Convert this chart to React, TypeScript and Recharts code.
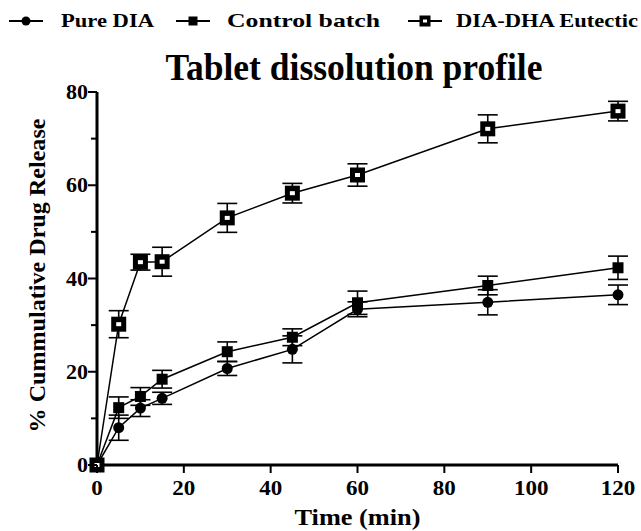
import React from "react";
import { LineChart, Line, XAxis, YAxis, ErrorBar } from "recharts";

const times = [0, 5, 10, 15, 30, 45, 60, 90, 120];
const pureDIA = [0, 8.0, 12.2, 14.3, 20.7, 24.8, 33.4, 34.9, 36.5];
const pureDIAErr = [0, 2.7, 1.8, 1.3, 1.5, 2.9, 1.6, 2.7, 2.1];
const controlBatch = [0, 12.3, 14.7, 18.4, 24.3, 27.4, 34.8, 38.5, 42.3];
const controlBatchErr = [0, 2.3, 1.9, 1.9, 2.1, 1.8, 2.5, 2.0, 2.5];
const eutectic = [0, 30.2, 43.5, 43.6, 53.0, 58.3, 62.2, 72.1, 75.9];
const eutecticErr = [0, 2.9, 1.7, 3.1, 3.1, 2.1, 2.4, 3.0, 2.1];

const xTicks = [0, 20, 40, 60, 80, 100, 120];
const yTicks = [0, 10, 20, 30, 40, 50, 60, 70, 80];

const seriesNames = ["Pure DIA", "Control batch", "DIA-DHA Eutectic"];
const title = "Tablet dissolution profile";
const xTitle = "Time (min)";
const yTitle = "% Cummulative Drug Release";

const data = times.map((t, i) => ({
  time: t,
  pure: pureDIA[i],
  pureErr: pureDIAErr[i],
  control: controlBatch[i],
  controlErr: controlBatchErr[i],
  eut: eutectic[i],
  eutErr: eutecticErr[i],
}));

const FONT = "Liberation Serif, Times New Roman, serif";

const CircleDot = (p: any) => {
  const { cx, cy, index } = p;
  if (cx == null || cy == null) return <g key={`c-${index}`} />;
  return <circle key={`c-${index}`} cx={cx} cy={cy} r={5.5} fill="#000" />;
};
const SquareDot = (p: any) => {
  const { cx, cy, index } = p;
  if (cx == null || cy == null) return <g key={`s-${index}`} />;
  return <rect key={`s-${index}`} x={cx - 5.5} y={cy - 5.5} width={11} height={11} fill="#000" />;
};
const OpenSquareDot = (p: any) => {
  const { cx, cy, index } = p;
  if (cx == null || cy == null) return <g key={`o-${index}`} />;
  return (
    <g key={`o-${index}`}>
      <rect x={cx - 7.5} y={cy - 7.5} width={15} height={15} fill="#000" />
      <rect x={cx - 2.5} y={cy - 2} width={5} height={4} fill="#fff" />
    </g>
  );
};

const YTick = (props: any) => {
  const { x, y, payload } = props;
  const major = payload.value % 20 === 0;
  const s = String(payload.value);
  return (
    <g>
      <line x1={x} x2={x - (major ? 9 : 6)} y1={y} y2={y} stroke="#000" strokeWidth={2} />
      {major && (
        <text
          x={x - 9}
          y={y}
          dy="0.36em"
          textAnchor="end"
          fontFamily={FONT}
          fontWeight="bold"
          fontSize={20}
          fill="#000"
          textLength={s.length * 11}
          lengthAdjust="spacingAndGlyphs"
        >
          {s}
        </text>
      )}
    </g>
  );
};

const XTick = (props: any) => {
  const { x, y, payload } = props;
  const s = String(payload.value);
  return (
    <g>
      <line x1={x} x2={x} y1={y} y2={y + 8} stroke="#000" strokeWidth={2} />
      <text
        x={x}
        y={y + 30}
        textAnchor="middle"
        fontFamily={FONT}
        fontWeight="bold"
        fontSize={20}
        fill="#000"
        textLength={s.length * 11.5}
        lengthAdjust="spacingAndGlyphs"
      >
        {s}
      </text>
    </g>
  );
};

const legendIconX = [9, 176, 408];
const legendTextX = [61, 227, 456];
const legendTextW = [93, 153, 182];
const LegendIcon = ({ i, x0, cy }: { i: number; x0: number; cy: number }) => {
  const cx = x0 + 17;
  return (
    <g>
      <line x1={x0} x2={x0 + 34} y1={cy} y2={cy} stroke="#000" strokeWidth={2} />
      {i === 0 && <circle cx={cx} cy={cy} r={4.5} fill="#000" />}
      {i === 1 && <rect x={cx - 4.5} y={cy - 4.5} width={9} height={9} fill="#000" />}
      {i === 2 && (
        <g>
          <rect x={cx - 5.5} y={cy - 5.5} width={11} height={11} fill="#000" />
          <rect x={cx - 2} y={cy - 1.5} width={4} height={3} fill="#fff" />
        </g>
      )}
    </g>
  );
};

export default function App() {
  return (
    <div style={{ position: "absolute", left: 0, top: 0, width: 641, height: 531, background: "#fff" }}>
      <LineChart
        width={641}
        height={531}
        data={data}
        margin={{ top: 92, right: 23, bottom: 0, left: 0 }}
      >
        <XAxis
          dataKey="time"
          type="number"
          domain={[0, 120]}
          ticks={xTicks}
          height={66}
          axisLine={{ stroke: "#000", strokeWidth: 3 }}
          tickLine={false}
          tickSize={0}
          tickMargin={0}
          tick={<XTick />}
          interval={0}
          label={{
            content: (lp: any) => {
              const vb = lp.viewBox || { x: 97, y: 465, width: 521, height: 66 };
              const cx = vb.x + vb.width / 2;
              return (
                <text
                  x={cx}
                  y={vb.y + 60}
                  textAnchor="middle"
                  fontFamily={FONT}
                  fontWeight="bold"
                  fontSize={23}
                  fill="#000"
                  textLength={126}
                  lengthAdjust="spacingAndGlyphs"
                >
                  {xTitle}
                </text>
              );
            },
          }}
        />
        <YAxis
          type="number"
          domain={[0, 80]}
          ticks={yTicks}
          width={97}
          axisLine={{ stroke: "#000", strokeWidth: 3 }}
          tickLine={false}
          tickSize={0}
          tickMargin={0}
          tick={<YTick />}
          interval={0}
          label={{
            content: (lp: any) => {
              const vb = lp.viewBox || { x: 0, y: 92, width: 97, height: 373 };
              const cx = vb.x + 37;
              const cy = vb.y + vb.height / 2 - 3;
              return (
                <text
                  x={cx}
                  y={cy}
                  transform={`rotate(-90 ${cx} ${cy})`}
                  textAnchor="middle"
                  dy="0.35em"
                  fontFamily={FONT}
                  fontWeight="bold"
                  fontSize={24}
                  fill="#000"
                  textLength={314}
                  lengthAdjust="spacingAndGlyphs"
                >
                  {yTitle}
                </text>
              );
            },
          }}
        />
        <Line
          name={seriesNames[0]}
          dataKey="pure"
          type="linear"
          stroke="#000"
          strokeWidth={1.5}
          dot={CircleDot}
          activeDot={false}
          isAnimationActive={false}
        >
          <ErrorBar dataKey="pureErr" direction="y" width={10} stroke="#000" strokeWidth={1.6} isAnimationActive={false} />
        </Line>
        <Line
          name={seriesNames[1]}
          dataKey="control"
          type="linear"
          stroke="#000"
          strokeWidth={1.5}
          dot={SquareDot}
          activeDot={false}
          isAnimationActive={false}
        >
          <ErrorBar dataKey="controlErr" direction="y" width={10} stroke="#000" strokeWidth={1.6} isAnimationActive={false} />
        </Line>
        <Line
          name={seriesNames[2]}
          dataKey="eut"
          type="linear"
          stroke="#000"
          strokeWidth={1.5}
          dot={OpenSquareDot}
          activeDot={false}
          isAnimationActive={false}
        >
          <ErrorBar dataKey="eutErr" direction="y" width={10} stroke="#000" strokeWidth={1.6} isAnimationActive={false} />
        </Line>
      </LineChart>
      <svg
        width={641}
        height={90}
        style={{ position: "absolute", left: 0, top: 0, pointerEvents: "none" }}
      >
        {seriesNames.map((name, i) => (
          <g key={name}>
            <LegendIcon i={i} x0={legendIconX[i]} cy={21} />
            <text
              x={legendTextX[i]}
              y={27}
              fontFamily={FONT}
              fontWeight="bold"
              fontSize={19}
              fill="#000"
              textLength={legendTextW[i]}
              lengthAdjust="spacingAndGlyphs"
            >
              {name}
            </text>
          </g>
        ))}
        <text
          x={354}
          y={80}
          textAnchor="middle"
          fontFamily={FONT}
          fontWeight="bold"
          fontSize={37}
          fill="#000"
          textLength={377}
          lengthAdjust="spacingAndGlyphs"
        >
          {title}
        </text>
      </svg>
    </div>
  );
}
